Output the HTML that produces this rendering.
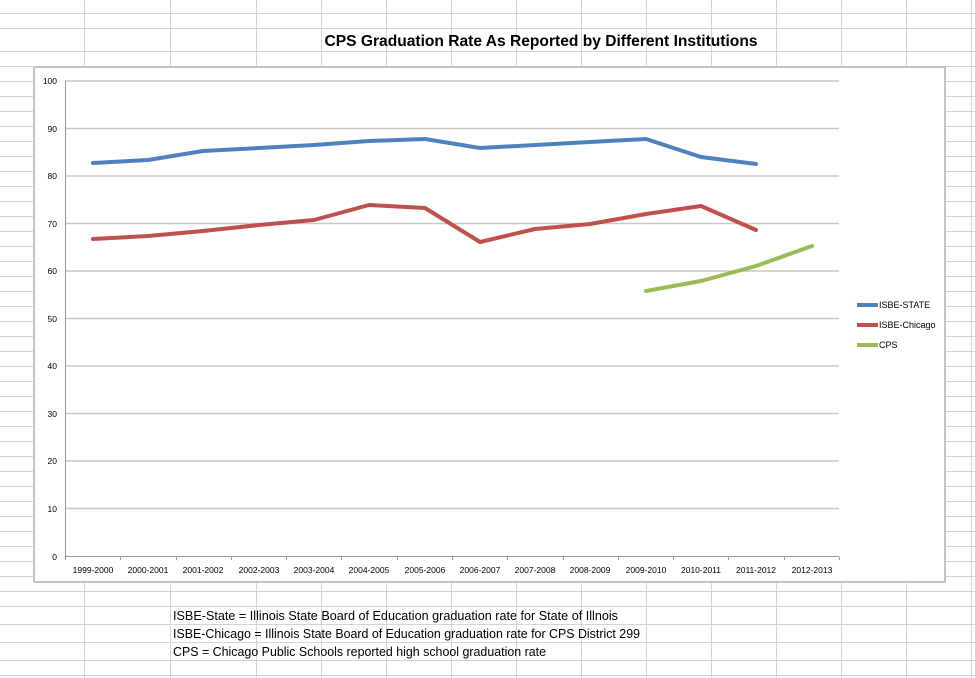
<!DOCTYPE html>
<html><head><meta charset="utf-8"><style>html,body{margin:0;padding:0;background:#fff}svg{display:block}</style></head>
<body>
<svg width="975" height="678" viewBox="0 0 975 678" xmlns="http://www.w3.org/2000/svg" font-family="Liberation Sans, sans-serif">
<rect width="975" height="678" fill="#fff"/>
<g stroke="#d4d4d4" stroke-width="1">
<!-- top rows -->
<line x1="0" y1="13.5" x2="975" y2="13.5"/><line x1="0" y1="28.5" x2="975" y2="28.5"/><line x1="0" y1="51.5" x2="975" y2="51.5"/><line x1="0" y1="66.5" x2="975" y2="66.5"/>
<!-- side rows -->
<path d="M0 81.5H34M0 96.5H34M0 111.5H34M0 126.5H34M0 141.5H34M0 156.5H34M0 171.5H34M0 186.5H34M0 201.5H34M0 216.5H34M0 231.5H34M0 246.5H34M0 261.5H34M0 276.5H34M0 291.5H34M0 306.5H34M0 321.5H34M0 336.5H34M0 351.5H34M0 366.5H34M0 381.5H34M0 396.5H34M0 411.5H34M0 426.5H34M0 441.5H34M0 456.5H34M0 471.5H34M0 486.5H34M0 501.5H34M0 516.5H34M0 531.5H34M0 546.5H34M0 561.5H34M0 576.5H34"/>
<path d="M945 81.5H975M945 96.5H975M945 111.5H975M945 126.5H975M945 141.5H975M945 156.5H975M945 171.5H975M945 186.5H975M945 201.5H975M945 216.5H975M945 231.5H975M945 246.5H975M945 261.5H975M945 276.5H975M945 291.5H975M945 306.5H975M945 321.5H975M945 336.5H975M945 351.5H975M945 366.5H975M945 381.5H975M945 396.5H975M945 411.5H975M945 426.5H975M945 441.5H975M945 456.5H975M945 471.5H975M945 486.5H975M945 501.5H975M945 516.5H975M945 531.5H975M945 546.5H975M945 561.5H975M945 576.5H975"/>
<!-- bottom rows -->
<line x1="0" y1="591.5" x2="975" y2="591.5"/><line x1="0" y1="606.5" x2="975" y2="606.5"/><line x1="0" y1="624.5" x2="975" y2="624.5"/><line x1="0" y1="642.5" x2="975" y2="642.5"/><line x1="0" y1="660.5" x2="975" y2="660.5"/><line x1="0" y1="675.5" x2="975" y2="675.5"/>
<!-- columns -->
<path d="M84.5 0V66M170.5 0V66M256.5 0V66M321.5 0V66M386.5 0V66M451.5 0V66M516.5 0V66M581.5 0V66M646.5 0V66M711.5 0V66M776.5 0V66M841.5 0V66M906.5 0V66M971.5 0V678"/>
<path d="M84.5 582V678M170.5 582V678M256.5 582V678M321.5 582V678M386.5 582V678M451.5 582V678M516.5 582V678M581.5 582V678M646.5 582V678M711.5 582V678M776.5 582V678M841.5 582V678M906.5 582V678"/>
</g>
<text x="541" y="46" font-size="16" font-weight="bold" text-anchor="middle" textLength="433" lengthAdjust="spacingAndGlyphs">CPS Graduation Rate As Reported by Different Institutions</text>
<!-- chart box -->
<rect x="34" y="67" width="911" height="515" fill="#fff"/>
<path d="M34 582V67H945V582H34" fill="none" stroke="#c4c4c4" stroke-width="2"/>
<g stroke="#c8c8c8" stroke-width="1.5">
<line x1="65" y1="81" x2="839" y2="81"/><line x1="65" y1="128.5" x2="839" y2="128.5"/><line x1="65" y1="176" x2="839" y2="176"/><line x1="65" y1="223.5" x2="839" y2="223.5"/><line x1="65" y1="271" x2="839" y2="271"/><line x1="65" y1="318.5" x2="839" y2="318.5"/><line x1="65" y1="366" x2="839" y2="366"/><line x1="65" y1="413.5" x2="839" y2="413.5"/><line x1="65" y1="461" x2="839" y2="461"/><line x1="65" y1="508.5" x2="839" y2="508.5"/>
</g>
<g stroke="#999" stroke-width="1">
<line x1="65.5" y1="81" x2="65.5" y2="557"/><line x1="65" y1="556.5" x2="839" y2="556.5"/>
<path d="M65.5 557v3M120.5 557v3M176.5 557v3M231.5 557v3M286.5 557v3M341.5 557v3M397.5 557v3M452.5 557v3M507.5 557v3M563.5 557v3M618.5 557v3M673.5 557v3M728.5 557v3M784.5 557v3M839.5 557v3"/>
</g>
<g font-size="8.5" text-anchor="end" fill="#000">
<text x="57" y="84">100</text><text x="57" y="132">90</text><text x="57" y="179">80</text><text x="57" y="227">70</text><text x="57" y="274">60</text><text x="57" y="322">50</text><text x="57" y="369">40</text><text x="57" y="417">30</text><text x="57" y="464">20</text><text x="57" y="512">10</text><text x="57" y="560">0</text>
</g>
<g font-size="8.5" text-anchor="middle" fill="#000">
<text x="93" y="573">1999-2000</text><text x="148" y="573">2000-2001</text><text x="203" y="573">2001-2002</text><text x="259" y="573">2002-2003</text><text x="314" y="573">2003-2004</text><text x="369" y="573">2004-2005</text><text x="425" y="573">2005-2006</text><text x="480" y="573">2006-2007</text><text x="535" y="573">2007-2008</text><text x="590" y="573">2008-2009</text><text x="646" y="573">2009-2010</text><text x="701" y="573">2010-2011</text><text x="756" y="573">2011-2012</text><text x="812" y="573">2012-2013</text>
</g>
<g fill="none" stroke-width="4" stroke-linejoin="round" stroke-linecap="round">
<polyline stroke="#4F81BD" points="93,163 148,160 203,151 259,148 314,145 369,141 425,139 480,148 535,145 590,142 646,139 701,157 756,164"/>
<polyline stroke="#C0504D" points="93,239 148,236 203,231 259,225 314,220 369,205 425,208 480,242 535,229 590,224 646,214 701,206 756,230"/>
<polyline stroke="#9BBB59" points="646,291 701,281 756,266 812,246"/>
</g>
<g stroke-width="4"><line x1="857" y1="305" x2="878" y2="305" stroke="#4F81BD"/><line x1="857" y1="325" x2="878" y2="325" stroke="#C0504D"/><line x1="857" y1="345" x2="878" y2="345" stroke="#9BBB59"/></g>
<g font-size="9" fill="#000"><text x="879" y="308">ISBE-STATE</text><text x="879" y="328">ISBE-Chicago</text><text x="879" y="348">CPS</text></g>
<g font-size="13" fill="#000">
<text x="173" y="620" textLength="445" lengthAdjust="spacingAndGlyphs">ISBE-State = Illinois State Board of Education graduation rate for State of Illnois</text>
<text x="173" y="638" textLength="467" lengthAdjust="spacingAndGlyphs">ISBE-Chicago = Illinois State Board of Education graduation rate for CPS District 299</text>
<text x="173" y="656" textLength="373" lengthAdjust="spacingAndGlyphs">CPS = Chicago Public Schools reported high school graduation rate</text>
</g>
</svg>
</body></html>
